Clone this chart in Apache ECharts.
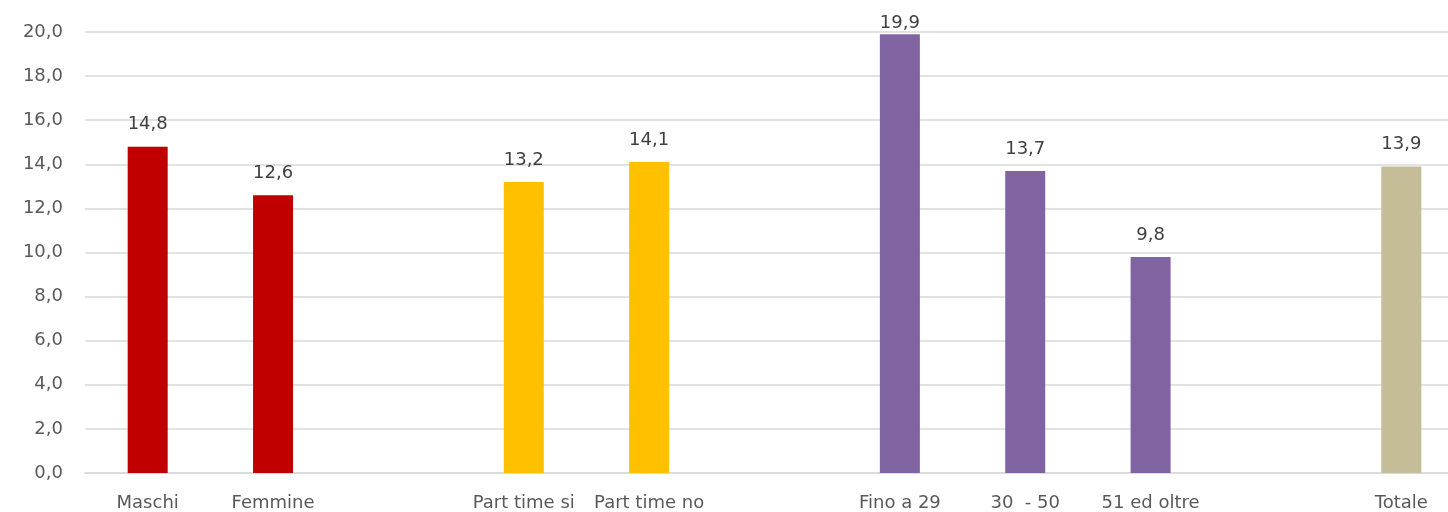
<!DOCTYPE html>
<html>
<head>
<meta charset="utf-8">
<script src="https://cdn.jsdelivr.net/npm/echarts@6/dist/echarts.min.js"></script>
<style>html,body{margin:0;padding:0;background:#fff;overflow:hidden;width:1448px;height:512px;}#c{width:1480px;height:512px;}</style>
</head>
<body>
<div id="c"></div>
<script>
const categories = ['Maschi', 'Femmine', '', 'Part time si', 'Part time no', '', 'Fino a 29', '30  - 50', '51 ed oltre', '', 'Totale'];
const values = [14.8, 12.6, null, 13.2, 14.1, null, 19.9, 13.7, 9.8, null, 13.9];
const barColors = ['#C00000', '#C00000', null, '#FFC000', '#FFC000', null, '#8064A2', '#8064A2', '#8064A2', null, '#C4BD97'];
const yTicks = [0, 2, 4, 6, 8, 10, 12, 14, 16, 18, 20];

const chart = echarts.init(document.getElementById('c'));
const font = '"DejaVu Sans", sans-serif';
const yMax = yTicks[yTicks.length - 1];
chart.setOption({
  animation: false,
  grid: { left: 85, top: 32, right: 16, bottom: 39, containLabel: false },
  xAxis: {
    type: 'category',
    data: categories,
    axisLine: { lineStyle: { color: '#D9D9D9', width: 1.5 } },
    axisTick: { show: false },
    axisLabel: { color: '#595959', fontSize: 18, fontFamily: font, margin: 21, interval: 0 }
  },
  yAxis: {
    type: 'value',
    min: yTicks[0],
    max: yMax,
    interval: 2,
    axisLine: { show: false },
    axisTick: { show: false },
    splitLine: { lineStyle: { color: '#D9D9D9', width: 1.5 } },
    axisLabel: {
      color: '#595959', fontSize: 18, fontFamily: font, margin: 22,
      formatter: v => v.toFixed(1).replace('.', ',')
    }
  },
  series: [{
    type: 'bar',
    barWidth: 40,
    data: values.map((v, i) => {
      const item = { value: v, itemStyle: { color: barColors[i] || '#000' } };
      if (v != null && v > yMax - 1) item.label = { distance: 2 };
      return item;
    }),
    label: {
      show: true,
      position: 'top',
      distance: 13,
      color: '#404040',
      fontSize: 18,
      fontFamily: font,
      formatter: p => p.value == null ? '' : p.value.toFixed(1).replace('.', ',')
    }
  }]
});
</script>
</body>
</html>
